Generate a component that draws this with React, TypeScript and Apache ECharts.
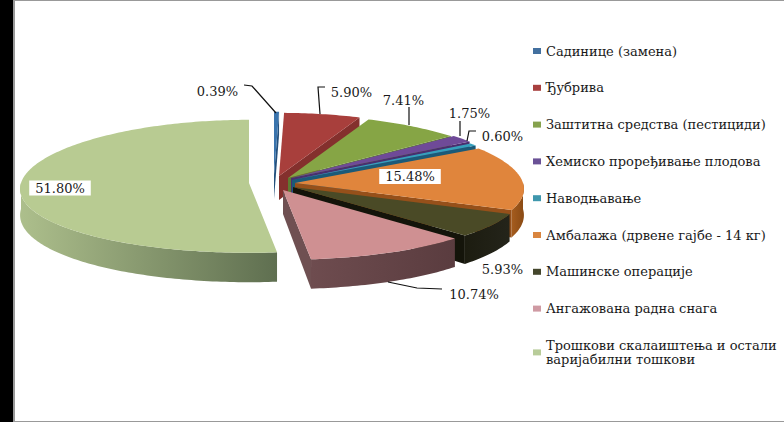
import React, { useEffect, useRef } from "react";
import * as echarts from "echarts";

const categories = [
  "Садинице (замена)",
  "Ђубрива",
  "Заштитна средства (пестициди)",
  "Хемиско проређивање плодова",
  "Наводњавање",
  "Амбалажа (дрвене гајбе - 14 кг)",
  "Машинске операције",
  "Ангажована радна снага",
  "Трошкови скалаиштења и остали\nваријабилни тошкови",
];
const values = [0.39, 5.9, 7.41, 1.75, 0.6, 15.48, 5.93, 10.74, 51.8];

const topColors = ["#3a74ad", "#a83f3c", "#86a545", "#6f4a98", "#35a0bc", "#e0853c", "#4a4a26", "#cf9092", "#b8cb92"];
const legendColors = ["#43709f", "#a8403f", "#86a24e", "#6a5196", "#3f97ad", "#d9853f", "#44462c", "#cf9aa3", "#b8cc99"];
const cutColors = ["#24507c", "#84302d", "#5d7a30", "#4a2f6e", "#1b5a78", "#96501a", "#14140a", "#6f5052", "#5f6f4f"];
const rimColors = [
  ["#24507c", "#24507c"],
  ["#84302d", "#84302d"],
  ["#5d7a30", "#5d7a30"],
  ["#4a2f6e", "#4a2f6e"],
  ["#1b5a78", "#1b5a78"],
  ["#a55c1e", "#8a4a14"],
  ["#1c1c10", "#24241a"],
  ["#6e4c4f", "#5a3c3f"],
  ["#adbf8c", "#5f6f50"],
];
// Apex of every exploded slice
const apexX = [274, 279, 288, 291, 292, 295, 293, 283, 249];
const apexY = [175, 176, 178, 178, 180, 183, 187, 190, 183];

const labelTexts = ["0.39%", "5.90%", "7.41%", "1.75%", "0.60%", "15.48%", "5.93%", "10.74%", "51.80%"];
const labelX = [217.5, 351.5, 403.5, 469.5, 502.5, 410, 502.5, 474, 60];
const labelY = [91, 92, 100, 113.5, 136, 176.5, 269, 294, 188];
const labelBoxed = [false, false, false, false, false, true, false, false, true];
const leaders: number[][][] = [
  [[244, 85], [252, 86], [276, 113]],
  [[325, 87], [318, 87], [320, 114]],
  [[409, 107], [409, 125]],
  [[460, 121], [460, 136]],
  [[476, 131], [469, 131], [467, 141]],
  [],
  [],
  [[388, 282], [417, 288], [442, 289]],
  [],
];

const RX = 228;
const RY = 66.5;
const KX = 0.09;
const KY = 0.05;
const DEPTH = 26;
const KD = 0.13;
const APEX_DEPTH = 24;
const FONT = "DejaVu Serif";
const rad = (d: number) => (d * Math.PI) / 180;

export default function App() {
  const ref = useRef<HTMLDivElement>(null);
  useEffect(() => {
    document.body.style.margin = "0";
    const chart = echarts.init(ref.current!, null, { renderer: "svg" });
    const total = values.reduce((a, b) => a + b, 0);
    let cum = 0;
    const spans = values.map((v) => {
      const a = (cum / total) * 360;
      cum += v;
      return [a, (cum / total) * 360];
    });

    const series = categories.map((name, i) => ({
      type: "custom",
      name,
      coordinateSystem: "none",
      silent: true,
      itemStyle: { color: legendColors[i] },
      data: [[values[i]]],
      renderItem: () => {
        const [t0, t1] = spans[i];
        const cx = apexX[i];
        const cy = apexY[i];
        const top = (t: number) => {
          const s = Math.sin(rad(t));
          const c = Math.cos(rad(t));
          return [cx + RX * (1 - KX * c) * s, cy - RY * (1 - KY * c) * c];
        };
        const low = (t: number) => {
          const p = top(t);
          return [p[0], p[1] + DEPTH * (1 - KD * Math.cos(rad(t)))];
        };
        const sample = (a: number, b: number) => {
          const out: number[] = [];
          const n = Math.max(2, Math.ceil(b - a));
          for (let k = 0; k <= n; k++) out.push(a + ((b - a) * k) / n);
          return out;
        };
        const children: any[] = [];
        // end cut face
        if (t1 > 0 && t1 < 180) {
          children.push({
            type: "polygon",
            shape: { points: [[cx, cy], top(t1), low(t1), [cx, cy + APEX_DEPTH]] },
            style: { fill: cutColors[i] },
          });
        }
        // outer wall
        const a = Math.max(t0, 90);
        const b = Math.min(t1, 270);
        if (b > a) {
          const ts = sample(a, b);
          children.push({
            type: "polygon",
            shape: { points: [...ts.map(top), ...ts.slice().reverse().map(low)] },
            style: {
              fill: new echarts.graphic.LinearGradient(1, 0, 0, 0, [
                { offset: 0, color: rimColors[i][1] },
                { offset: 1, color: rimColors[i][0] },
              ]),
            },
          });
        }
        // top face
        children.push({
          type: "polygon",
          shape: { points: [[cx, cy], ...sample(t0, t1).map(top)] },
          style: { fill: topColors[i] },
        });
        // leader
        if (leaders[i].length) {
          children.push({
            type: "polyline",
            shape: { points: leaders[i] },
            style: { stroke: "#111", lineWidth: 1.2, fill: "none" },
          });
        }
        // label
        children.push({
          type: "text",
          z2: 10,
          style: {
            x: labelX[i],
            y: labelY[i],
            text: labelTexts[i],
            align: "center",
            verticalAlign: "middle",
            fontFamily: FONT,
            fontSize: 13,
            fill: "#1a1a1a",
            ...(labelBoxed[i]
              ? { backgroundColor: "#fff", padding: [1, 6, 1, 6] }
              : {}),
          },
        });
        return { type: "group", children };
      },
    }));

    chart.setOption({
      animation: false,
      backgroundColor: "#fff",
      legend: {
        orient: "vertical",
        left: 533,
        top: 44,
        padding: 0,
        itemWidth: 8,
        itemHeight: 6,
        itemGap: 22.8,
        selectedMode: false,
        icon: "rect",
        data: categories,
        textStyle: { fontFamily: FONT, fontSize: 13, color: "#1a1a1a", lineHeight: 14 },
      },
      graphic: [
        { type: "rect", shape: { x: 0, y: 0, width: 13, height: 422 }, style: { fill: "#000" } },
        { type: "rect", shape: { x: 13, y: 0, width: 2, height: 422 }, style: { fill: "#999" } },
        { type: "rect", shape: { x: 13, y: 0, width: 771, height: 1 }, style: { fill: "#999" } },
        { type: "rect", shape: { x: 13, y: 421, width: 771, height: 1 }, style: { fill: "#999" } },
      ],
      series,
    });
    return () => chart.dispose();
  }, []);
  return <div ref={ref} style={{ width: 784, height: 422 }} />;
}
